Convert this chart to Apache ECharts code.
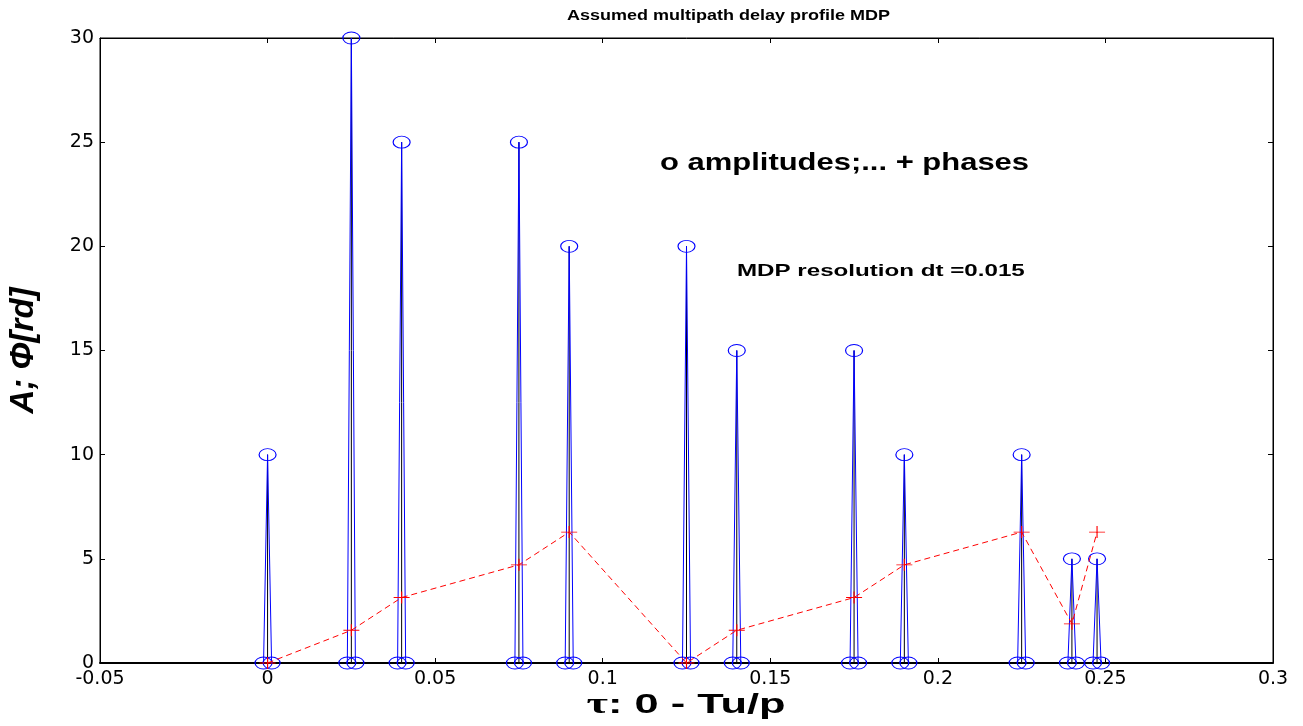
<!DOCTYPE html>
<html><head><meta charset="utf-8">
<script src="https://cdn.jsdelivr.net/npm/echarts@6/dist/echarts.min.js"></script>
<style>html,body{margin:0;padding:0;background:#fff}#c{width:1303px;height:726px}</style>
</head><body><div id="c"></div>
<script>
const pulseX = [0, 0.025, 0.04, 0.075, 0.09, 0.125, 0.14, 0.175, 0.19, 0.225, 0.24, 0.2475];
const amplitudes = [10, 30, 25, 25, 20, 20, 15, 15, 10, 10, 5, 5];
const phases = [0, 1.571, 3.142, 4.712, 6.283, 0, 1.571, 3.142, 4.712, 6.283, 1.88, 6.283];
const pulseHalfWidth = 0.0012;
const xTickLabels = ['-0.05', '0', '0.05', '0.1', '0.15', '0.2', '0.25', '0.3'];
const yTickLabels = ['0', '5', '10', '15', '20', '25', '30'];

const chart = echarts.init(document.getElementById('c'), null, {renderer: 'canvas'});
const X_MIN = -0.05, X_INT = 0.05, Y_MIN = 0, Y_INT = 5;
const series = [];
pulseX.forEach((x, i) => {
  series.push({
    type: 'line', xAxisIndex: 0, yAxisIndex: 0, z: 3,
    data: [[x, 0], [x, amplitudes[i]]],
    showSymbol: false, symbol: 'none',
    lineStyle: {color: '#000', width: 1}, animation: false, silent: true
  });
  series.push({
    type: 'line', xAxisIndex: 0, yAxisIndex: 0, z: 4,
    data: [[x - pulseHalfWidth, 0], [x, amplitudes[i]], [x + pulseHalfWidth, 0]],
    symbol: 'circle', symbolSize: [17, 12], showAllSymbol: true,
    itemStyle: {color: 'rgba(0,0,0,0)', borderColor: '#0000ff', borderWidth: 1},
    lineStyle: {color: '#0000ff', width: 1}, animation: false, silent: true
  });
});
series.push({
  type: 'line', xAxisIndex: 0, yAxisIndex: 0, z: 5,
  data: pulseX.map((x, i) => [x, phases[i]]),
  symbol: 'path://M0,5L10,5M5,0L5,10', symbolSize: [16, 12], showAllSymbol: true,
  itemStyle: {color: 'rgba(0,0,0,0)', borderColor: '#ff0000', borderWidth: 1},
  lineStyle: {color: '#ff0000', width: 1, type: [6, 4]}, animation: false, silent: true
});

const axisFont = {fontFamily: 'DejaVu Sans', fontSize: 19, color: '#000'};
const boldFont = 'Liberation Sans, Arial';
chart.setOption({
  backgroundColor: '#fff',
  animation: false,
  grid: {left: 100, right: 30, top: 38, bottom: 63, show: true, borderColor: '#000', borderWidth: 1,
    backgroundColor: '#fff', containLabel: false, outerBoundsMode: 'none'},
  xAxis: [{
    type: 'value', min: X_MIN, max: 0.3, interval: X_INT, position: 'bottom',
    axisLine: {show: true, onZero: false, lineStyle: {color: '#000', width: 2}},
    axisTick: {show: true, inside: true, length: 5, lineStyle: {color: '#000'}},
    axisLabel: Object.assign({margin: 7, formatter: v => xTickLabels[Math.round((v - X_MIN) / X_INT)]}, axisFont),
    splitLine: {show: false}
  }, {
    type: 'value', min: X_MIN, max: 0.3, interval: X_INT, position: 'top',
    axisLine: {show: true, onZero: false, lineStyle: {color: '#000', width: 1}},
    axisTick: {show: true, inside: true, length: 5, lineStyle: {color: '#000'}},
    axisLabel: {show: false}, splitLine: {show: false}
  }],
  yAxis: [{
    type: 'value', min: Y_MIN, max: 30, interval: Y_INT, position: 'left',
    axisLine: {show: true, onZero: false, lineStyle: {color: '#000', width: 1}},
    axisTick: {show: true, inside: true, length: 5, lineStyle: {color: '#000'}},
    axisLabel: Object.assign({margin: 6, formatter: v => yTickLabels[Math.round((v - Y_MIN) / Y_INT)]}, axisFont),
    splitLine: {show: false},
    name: 'A; Φ[rd]', nameLocation: 'middle', nameGap: 60, nameRotate: 90,
    nameTextStyle: {fontFamily: boldFont, fontWeight: 'bold', fontStyle: 'italic', fontSize: 33, color: '#000'}
  }, {
    type: 'value', min: Y_MIN, max: 30, interval: Y_INT, position: 'right',
    axisLine: {show: true, onZero: false, lineStyle: {color: '#000', width: 1}},
    axisTick: {show: true, inside: true, length: 5, lineStyle: {color: '#000'}},
    axisLabel: {show: false}, splitLine: {show: false}
  }],
  graphic: [
    {type: 'text', x: 567, y: 16, scaleX: 1.2, z: 10,
      style: {text: 'Assumed multipath delay profile MDP', font: 'bold 15px ' + boldFont, fill: '#000', textAlign: 'left', textVerticalAlign: 'middle'}},
    {type: 'text', x: 660, y: 163, scaleX: 1.29, z: 10,
      style: {text: 'o amplitudes;... + phases', font: 'bold 24px ' + boldFont, fill: '#000', textAlign: 'left', textVerticalAlign: 'middle'}},
    {type: 'text', x: 737, y: 271, scaleX: 1.42, z: 10,
      style: {text: 'MDP resolution dt =0.015', font: 'bold 17px ' + boldFont, fill: '#000', textAlign: 'left', textVerticalAlign: 'middle'}},
    {type: 'text', x: 686, y: 705, scaleX: 1.55, z: 10,
      style: {text: '{t|τ}: 0 - Tu/p', font: 'bold 28px ' + boldFont, fill: '#000', textAlign: 'center', textVerticalAlign: 'middle',
        rich: {t: {font: 'bold 30px Liberation Serif, Times New Roman', fill: '#000'}}}}
  ],
  series: series
});
</script></body></html>
